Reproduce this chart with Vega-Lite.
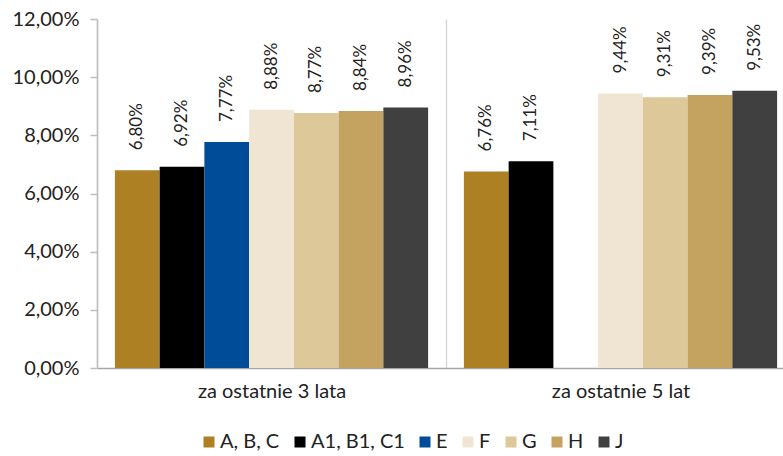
{
  "$schema": "https://vega.github.io/schema/vega-lite/v6.json",
  "width": 686,
  "height": 349,
  "autosize": {"type": "none"},
  "padding": {"left": 97, "top": 19, "right": 0, "bottom": 88},
  "background": "white",
  "config": {
    "locale": {"number": {"decimal": ",", "thousands": " ", "grouping": [3], "currency": ["", " zł"]}},
    "font": "Lato",
    "view": {"stroke": null},
    "axis": {"labelFont": "Lato", "labelFontSize": 20, "labelColor": "#222222"},
    "legend": {"labelFont": "Lato", "labelFontSize": 20, "labelColor": "#222222"}
  },
  "data": {
    "values": [
      {"okres": "za ostatnie 3 lata", "seria": "A, B, C", "wartosc": 0.068},
      {"okres": "za ostatnie 3 lata", "seria": "A1, B1, C1", "wartosc": 0.0692},
      {"okres": "za ostatnie 3 lata", "seria": "E", "wartosc": 0.0777},
      {"okres": "za ostatnie 3 lata", "seria": "F", "wartosc": 0.0888},
      {"okres": "za ostatnie 3 lata", "seria": "G", "wartosc": 0.0877},
      {"okres": "za ostatnie 3 lata", "seria": "H", "wartosc": 0.0884},
      {"okres": "za ostatnie 3 lata", "seria": "J", "wartosc": 0.0896},
      {"okres": "za ostatnie 5 lat", "seria": "A, B, C", "wartosc": 0.0676},
      {"okres": "za ostatnie 5 lat", "seria": "A1, B1, C1", "wartosc": 0.0711},
      {"okres": "za ostatnie 5 lat", "seria": "F", "wartosc": 0.0944},
      {"okres": "za ostatnie 5 lat", "seria": "G", "wartosc": 0.0931},
      {"okres": "za ostatnie 5 lat", "seria": "H", "wartosc": 0.0939},
      {"okres": "za ostatnie 5 lat", "seria": "J", "wartosc": 0.0953}
    ]
  },
  "encoding": {
    "x": {
      "field": "okres",
      "type": "nominal",
      "scale": {"paddingInner": 0, "paddingOuter": 0, "range": [0, 698]},
      "axis": {
        "title": null,
        "labelAngle": 0,
        "labelPadding": 13,
        "ticks": false,
        "domainColor": "#a6a6a6",
        "domainWidth": 1.5,
        "grid": true,
        "tickBand": "extent",
        "gridColor": "#d9d9d9",
        "gridWidth": 1.5
      }
    },
    "xOffset": {
      "field": "seria",
      "type": "nominal",
      "scale": {
        "domain": ["A, B, C", "A1, B1, C1", "E", "F", "G", "H", "J"],
        "paddingInner": 0,
        "paddingOuter": 0.4
      }
    },
    "y": {
      "field": "wartosc",
      "type": "quantitative",
      "scale": {"domain": [0, 0.12], "nice": false},
      "axis": {
        "title": null,
        "format": ".2%",
        "values": [0, 0.02, 0.04, 0.06, 0.08, 0.1, 0.12],
        "grid": false,
        "domainColor": "#bfbfbf",
        "domainWidth": 1.5,
        "tickColor": "#bfbfbf",
        "tickSize": 7,
        "tickWidth": 1.5,
        "labelPadding": 11
      }
    }
  },
  "layer": [
    {
      "mark": {"type": "bar"},
      "encoding": {
        "color": {
          "field": "seria",
          "type": "nominal",
          "scale": {
            "domain": ["A, B, C", "A1, B1, C1", "E", "F", "G", "H", "J"],
            "range": ["#ad8024", "#000000", "#004c99", "#f0e5d2", "#dcc898", "#c4a360", "#404040"]
          },
          "legend": {
            "title": null,
            "orient": "none",
            "legendX": 102,
            "legendY": 413,
            "direction": "horizontal",
            "symbolType": "square",
            "symbolSize": 121,
            "symbolStrokeWidth": 0,
            "columnPadding": 10,
            "labelOffset": 1
          }
        }
      }
    },
    {
      "mark": {"type": "text", "angle": 270, "align": "left", "baseline": "middle", "dx": 20, "fontSize": 17, "color": "#222222", "font": "Lato"},
      "encoding": {
        "text": {"field": "wartosc", "type": "quantitative", "format": ".2%"}
      }
    }
  ]
}
